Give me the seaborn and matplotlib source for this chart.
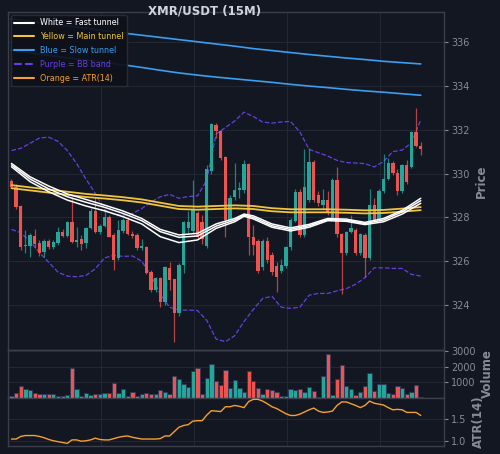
import numpy as np
import matplotlib
matplotlib.use("Agg")
import matplotlib.pyplot as plt
import seaborn as sns
from matplotlib.lines import Line2D

# 15M candles
opens = [329.66, 329.40, 328.50, 326.68, 326.71, 327.17, 326.82, 326.44, 326.94, 326.66,
         326.82, 327.35, 327.17, 327.77, 326.89, 327.00, 326.82, 327.50, 328.31, 327.32,
         327.61, 328.03, 327.20, 326.13, 327.40, 327.88, 327.25, 327.20, 326.62, 326.66,
         325.52, 324.69, 325.22, 324.14, 325.68, 325.17, 323.62, 325.83, 327.50, 327.40,
         328.20, 327.80, 326.70, 330.10, 332.20, 331.95, 330.75, 327.90, 328.95, 329.25,
         329.25, 330.45, 327.12, 326.90, 325.75, 326.90, 326.30, 325.80, 325.55, 325.80,
         326.65, 327.85, 329.17, 327.20, 328.80, 330.54, 329.00, 328.56, 328.79, 327.95,
         329.70, 327.24, 326.39, 327.35, 327.42, 326.36, 327.20, 326.13, 328.56, 327.90,
         329.20, 329.75, 330.47, 330.02, 329.20, 330.40, 330.30, 331.91, 331.25]
highs = [329.75, 329.50, 328.55, 327.42, 327.27, 327.45, 326.95, 327.00, 327.00, 326.95,
         327.58, 327.45, 327.82, 328.94, 327.58, 327.20, 327.58, 328.41, 328.94, 327.70,
         328.34, 328.10, 327.27, 327.88, 327.95, 328.00, 327.40, 327.30, 327.00, 326.70,
         325.60, 325.30, 325.30, 325.80, 325.98, 325.20, 325.90, 327.85, 328.30, 329.70,
         328.30, 328.10, 330.40, 332.30, 332.30, 332.00, 330.80, 329.00, 330.50, 329.60,
         330.60, 330.50, 327.65, 327.00, 327.00, 327.10, 326.40, 325.95, 326.10, 326.70,
         327.95, 329.30, 329.30, 331.10, 331.15, 330.60, 329.20, 329.30, 329.20, 329.80,
         330.30, 327.30, 327.40, 328.10, 327.50, 327.30, 327.30, 329.30, 328.90, 329.30,
         330.90, 330.70, 330.55, 330.20, 330.45, 330.60, 331.95, 333.00, 331.45]
lows = [329.35, 328.40, 326.50, 326.36, 326.21, 326.59, 326.22, 326.18, 326.58, 326.55,
        326.75, 327.10, 327.10, 326.85, 326.66, 326.50, 326.60, 327.45, 327.27, 327.25,
        327.55, 327.10, 325.60, 326.05, 327.30, 327.20, 327.05, 326.50, 326.50, 325.40,
        324.60, 324.60, 323.93, 324.00, 324.69, 322.33, 323.50, 325.45, 327.30, 327.30,
        327.00, 326.80, 326.60, 330.00, 331.60, 330.60, 327.10, 327.80, 328.80, 328.90,
        329.10, 326.30, 326.30, 325.45, 325.60, 325.90, 325.35, 324.60, 325.45, 325.70,
        326.50, 327.80, 327.10, 327.10, 328.70, 328.70, 328.50, 328.40, 328.10, 327.90,
        327.10, 324.50, 326.30, 327.30, 326.30, 326.30, 325.30, 326.05, 327.80, 327.85,
        329.10, 329.70, 329.95, 329.00, 329.10, 329.50, 330.25, 331.20, 330.85]
closes = [329.40, 328.49, 326.66, 326.74, 327.20, 326.78, 326.39, 326.94, 326.66, 326.89,
          327.35, 327.17, 327.77, 326.89, 326.97, 326.79, 327.50, 328.31, 327.32, 327.61,
          328.03, 327.12, 326.05, 327.42, 327.88, 327.25, 327.15, 326.60, 326.68, 325.48,
          324.69, 325.22, 324.14, 325.75, 325.14, 323.62, 325.83, 327.80, 327.80, 328.40,
          327.10, 327.00, 330.20, 332.25, 331.95, 330.70, 327.90, 328.90, 329.25, 329.32,
          330.45, 327.10, 326.72, 325.55, 326.90, 326.05, 325.50, 325.30, 325.85, 326.65,
          327.88, 329.17, 327.20, 329.40, 330.54, 328.80, 328.64, 328.79, 328.21, 329.70,
          327.24, 326.39, 327.35, 327.50, 326.36, 327.24, 326.13, 328.56, 327.85, 329.20,
          329.75, 330.47, 330.02, 329.20, 330.39, 329.60, 331.91, 331.25, 331.12]
volume = [100, 310, 760, 550, 530, 330, 270, 225, 250, 225,
          160, 160, 200, 1925, 550, 100, 330, 200, 270, 250,
          290, 330, 935, 350, 550, 120, 375, 120, 250, 350,
          270, 270, 505, 375, 250, 1430, 1235, 915, 700, 1710,
          1925, 270, 1260, 2180, 1065, 805, 1775, 635, 1150, 635,
          400, 1730, 1085, 635, 270, 590, 480, 375, 160, 160,
          570, 525, 570, 375, 720, 460, 55, 1400, 2785, 200,
          1190, 2120, 760, 590, 200, 375, 760, 1560, 460, 870,
          870, 330, 225, 760, 610, 225, 375, 850, 55]
atr = [1.04, 1.04, 1.10, 1.12, 1.12, 1.12, 1.10, 1.07, 1.03, 1.00,
       0.98, 0.96, 0.94, 1.02, 1.02, 0.99, 1.00, 1.02, 1.06, 1.03,
       1.02, 1.02, 1.05, 1.08, 1.10, 1.11, 1.08, 1.06, 1.04, 1.04,
       1.04, 1.04, 1.05, 1.11, 1.11, 1.21, 1.31, 1.35, 1.37, 1.45,
       1.46, 1.46, 1.59, 1.69, 1.68, 1.67, 1.78, 1.78, 1.81, 1.79,
       1.76, 1.90, 1.95, 1.95, 1.91, 1.85, 1.78, 1.74, 1.68, 1.62,
       1.58, 1.58, 1.61, 1.66, 1.71, 1.75, 1.68, 1.65, 1.66, 1.68,
       1.81, 1.89, 1.89, 1.85, 1.81, 1.76, 1.81, 1.91, 1.86, 1.84,
       1.82, 1.76, 1.71, 1.72, 1.71, 1.65, 1.65, 1.65, 1.58]

# fast tunnel (white), read every 4 bars
fast_x = [0, 4, 8, 12, 16, 20, 24, 28, 32, 36, 40, 44, 48, 50, 52, 56, 60, 64, 68, 72, 76, 80, 84, 88]
fast_1 = [330.46, 329.85, 329.43, 329.07, 328.82, 328.56, 328.29, 327.95, 327.45, 327.20, 327.27, 327.70,
          327.95, 328.15, 328.07, 327.70, 327.52, 327.68, 327.95, 327.92, 327.77, 327.95, 328.32, 328.87]
fast_2 = [330.39, 329.75, 329.30, 328.94, 328.69, 328.46, 328.18, 327.85, 327.35, 327.09, 327.15, 327.60,
          327.88, 328.10, 328.00, 327.62, 327.45, 327.62, 327.90, 327.87, 327.72, 327.88, 328.25, 328.76]
fast_3 = [330.31, 329.63, 329.17, 328.79, 328.52, 328.30, 328.03, 327.70, 327.12, 326.85, 326.97, 327.50,
          327.80, 328.05, 327.93, 327.55, 327.38, 327.55, 327.85, 327.82, 327.67, 327.80, 328.15, 328.64]

# main (yellow) and slow (blue) tunnels
tun_x = [0, 4, 8, 12, 16, 20, 24, 28, 32, 36, 40, 44, 48, 52, 56, 60, 64, 68, 72, 76, 80, 84, 88]
main_1 = [329.47, 329.37, 329.27, 329.17, 329.07, 329.00, 328.92, 328.82, 328.67, 328.52, 328.49, 328.52,
          328.55, 328.52, 328.42, 328.37, 328.37, 328.37, 328.35, 328.32, 328.34, 328.40, 328.47]
main_2 = [329.33, 329.23, 329.13, 329.03, 328.93, 328.86, 328.78, 328.68, 328.53, 328.38, 328.35, 328.38,
          328.41, 328.38, 328.28, 328.23, 328.23, 328.23, 328.21, 328.18, 328.20, 328.26, 328.33]
slow_1 = [337.06, 336.95, 336.84, 336.73, 336.63, 336.52, 336.41, 336.31, 336.21, 336.11, 336.01, 335.91,
          335.81, 335.70, 335.61, 335.52, 335.43, 335.35, 335.27, 335.20, 335.12, 335.06, 335.00]
slow_2 = [335.61, 335.50, 335.39, 335.28, 335.18, 335.07, 334.96, 334.84, 334.71, 334.59, 334.49, 334.40,
          334.32, 334.24, 334.16, 334.07, 333.99, 333.92, 333.84, 333.77, 333.71, 333.64, 333.57]

# bollinger bands, every 2 bars
bb_x = list(range(0, 89, 2))
bb_upper = [331.05, 331.15, 331.38, 331.62, 331.66, 331.47, 331.05, 330.46, 329.75, 329.10,
            328.35, 328.15, 328.10, 328.17, 328.40, 328.70, 328.94, 329.05, 328.87, 328.95,
            328.98, 329.70, 331.80, 332.10, 332.40, 332.80, 332.60, 332.35, 332.30, 332.35,
            332.38, 331.90, 331.10, 330.95, 330.80, 330.60, 330.50, 330.48, 330.45, 330.30,
            330.55, 331.00, 331.07, 331.40, 332.45]
bb_lower = [327.45, 327.30, 326.90, 326.40, 325.95, 325.50, 325.32, 325.29, 325.35, 325.65,
            326.15, 326.27, 326.22, 326.24, 326.00, 325.35, 324.50, 323.90, 323.77, 323.77,
            323.75, 323.30, 322.45, 322.33, 322.60, 323.25, 323.80, 324.30, 324.40, 323.90,
            323.85, 323.90, 324.45, 324.53, 324.53, 324.65, 324.75, 324.95, 325.25, 325.70,
            325.70, 325.67, 325.67, 325.40, 325.32]

BG = "#131722"
GRID = "#232734"
SPINE = "#3b3f4b"
TXT = "#878b96"
TEAL = "#26a69a"
RED = "#ef5350"
YELLOW = "#f0c43c"
BLUE = "#3a9ff0"
PURPLE = "#6540e0"
ORANGE = "#f5a030"

sns.set_theme(style="dark", rc={
    "figure.facecolor": BG, "axes.facecolor": BG, "axes.edgecolor": SPINE,
    "grid.color": GRID, "text.color": TXT, "xtick.color": TXT, "ytick.color": TXT,
    "axes.labelcolor": TXT, "axes.grid": True,
})
plt.rcParams["font.family"] = ["DejaVu Sans"]

fig = plt.figure(figsize=(5, 4.54), dpi=100)
ax = fig.add_axes([0.016, 0.2291, 0.872, 0.7445])
axv = fig.add_axes([0.016, 0.1233, 0.872, 0.1057], sharex=ax)
axa = fig.add_axes([0.016, 0.0176, 0.872, 0.1057], sharex=ax)

x = np.arange(len(closes))
o, h, l, c = (np.array(v) for v in (opens, highs, lows, closes))
colors = np.where(c >= o, TEAL, RED)

# tunnels and bands
sns.lineplot(x=tun_x, y=slow_1, ax=ax, color=BLUE, lw=1.2, zorder=2)
sns.lineplot(x=tun_x, y=slow_2, ax=ax, color=BLUE, lw=1.2, zorder=2)
sns.lineplot(x=bb_x, y=bb_upper, ax=ax, color=PURPLE, lw=0.9, linestyle="--", zorder=2)
sns.lineplot(x=bb_x, y=bb_lower, ax=ax, color=PURPLE, lw=0.9, linestyle="--", zorder=2)

# candles
ax.vlines(x, l, h, colors=colors, lw=0.9, alpha=0.75, zorder=3)
ax.bar(x, np.maximum(np.abs(c - o), 0.05), bottom=np.minimum(o, c), width=0.72,
       color=colors, linewidth=0, zorder=4)

sns.lineplot(x=tun_x, y=main_1, ax=ax, color=YELLOW, lw=1.3, zorder=5)
sns.lineplot(x=tun_x, y=main_2, ax=ax, color=YELLOW, lw=1.3, zorder=5)
for f in (fast_1, fast_2, fast_3):
    sns.lineplot(x=fast_x, y=f, ax=ax, color="white", lw=1.1, zorder=6)

# volume
axv.bar(x, volume, width=0.92, color=colors, edgecolor="#2b3858", linewidth=0.6, zorder=3)

# atr
sns.lineplot(x=x, y=atr, ax=axa, color=ORANGE, lw=1.0, zorder=3)

for a in (ax, axv, axa):
    a.set_xlim(-0.75, 93)
    a.set_xticks([19.2, 39.2, 59.2, 79.2])
    a.tick_params(axis="x", length=0, labelbottom=False)
    a.yaxis.tick_right()
    a.yaxis.set_label_position("right")
    a.tick_params(axis="y", length=3, width=0.8, colors=TXT, labelsize=7, pad=2)
    a.grid(True, color=GRID, lw=0.8)
    for s in a.spines.values():
        s.set_color(SPINE)
        s.set_linewidth(1.0)
    a.set_xlabel("")

ax.set_ylim(321.95, 337.37)
ax.set_yticks(range(324, 337, 2))
axv.set_ylim(0, 3050)
axv.set_yticks([1000, 2000, 3000])
axa.set_ylim(0.88, 1.98)
axa.set_yticks([1.0, 1.5])

ax.set_ylabel("Price", fontsize=8.5, fontweight="bold", color=TXT)
ax.yaxis.set_label_coords(1.071, 0.5)
axv.set_ylabel("Volume", fontsize=8.5, fontweight="bold", color=TXT)
axv.yaxis.set_label_coords(1.085, 0.5)
axa.set_ylabel("ATR(14)", fontsize=8.5, fontweight="bold", color=TXT)
axa.yaxis.set_label_coords(1.064, 0.5)

handles = [
    Line2D([], [], color="white", lw=1.5),
    Line2D([], [], color=YELLOW, lw=1.5),
    Line2D([], [], color=BLUE, lw=1.5),
    Line2D([], [], color=PURPLE, lw=1.5, ls="--"),
    Line2D([], [], color=ORANGE, lw=1.5),
]
labels = ["White = Fast tunnel", "Yellow = Main tunnel", "Blue = Slow tunnel",
          "Purple = BB band", "Orange = ATR(14)"]
ax.legend(handles, labels, loc="upper left", fontsize=5.8, facecolor="#0e1119",
          edgecolor="#2a2e39", framealpha=0.92, labelcolor="linecolor",
          handlelength=2.4, borderaxespad=0.4, labelspacing=0.6)

fig.text(205 / 500, 1 - 11 / 454, "XMR/USDT (15M)", ha="center", va="center",
         fontsize=8.5, fontweight="bold", color="#d1d4dc")

fig.savefig("out.png", dpi=100, facecolor=BG)
